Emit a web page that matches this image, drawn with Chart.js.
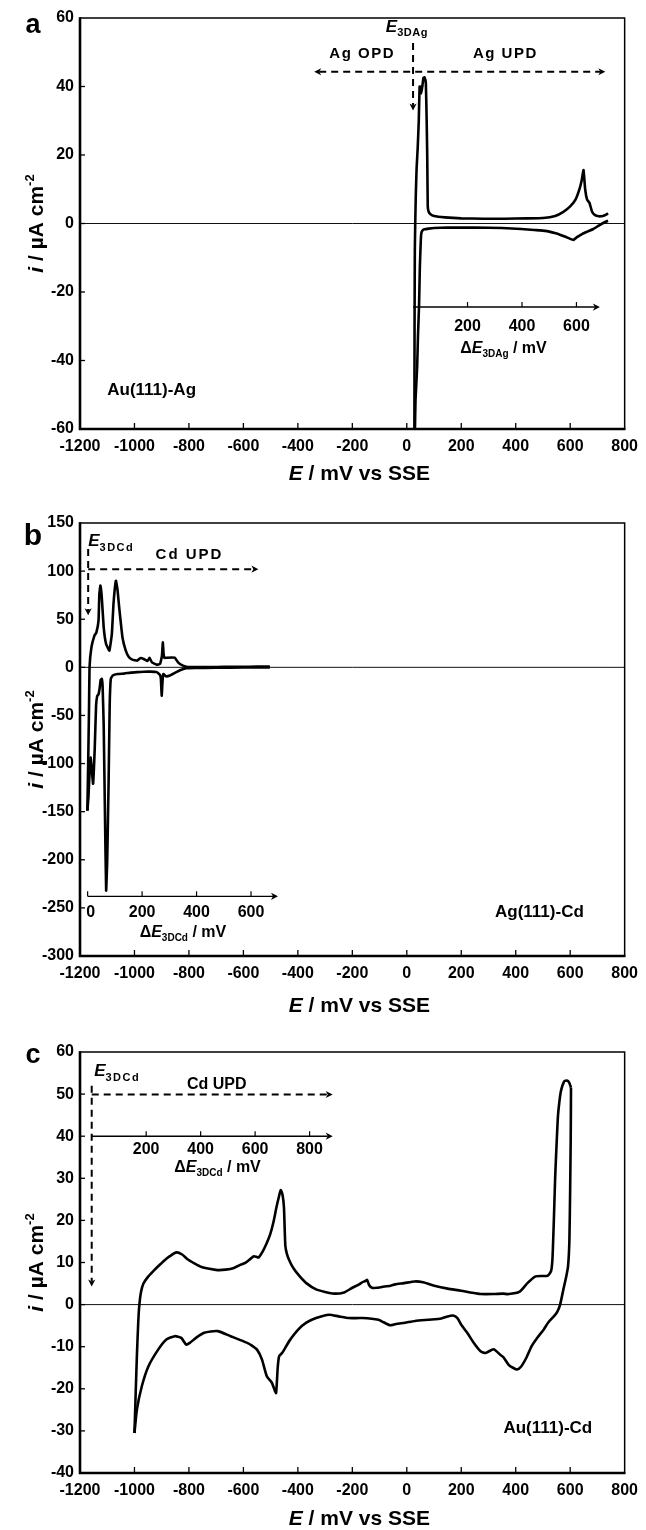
<!DOCTYPE html>
<html>
<head>
<meta charset="utf-8">
<script src="https://cdn.jsdelivr.net/npm/chart.js@4/dist/chart.umd.min.js"></script>
<style>
  html, body { margin: 0; padding: 0; background: #fff; }
  body { width: 646px; height: 1530px; position: relative; overflow: hidden; }
  canvas { position: absolute; left: 0; }
</style>
</head>
<body>
<canvas id="chartA" width="646" height="485" style="top:0px"></canvas>
<canvas id="chartB" width="646" height="530" style="top:485px"></canvas>
<canvas id="chartC" width="646" height="515" style="top:1015px"></canvas>
<script>
// Axis ticks (E / mV vs SSE shared by all panels)
const xTicks = { min: -1200, max: 800, step: 200 };
const yTicksA = { min: -60, max: 60, step: 20 };
const yTicksB = { min: -300, max: 150, step: 50 };
const yTicksC = { min: -40, max: 60, step: 10 };

// Panel a: Au(111)-Ag, anodic then cathodic sweep
const aAnodicE = [28, 28.5, 29.5, 31, 33, 36, 40, 44, 47, 50, 53, 57, 61, 65, 70, 73, 75, 77, 80, 86, 100, 140, 200, 280, 360, 440, 500, 545, 575, 600, 619, 632, 642, 649, 655, 662, 671, 680, 690, 705, 720, 732, 739];
const aAnodicI = [-60, -30, -8, 0, 8, 16, 22, 30, 40, 40, 38, 40, 42.5, 42.7, 41, 30, 20, 5, 3.5, 2.8, 2.2, 1.8, 1.5, 1.4, 1.4, 1.5, 1.6, 2.2, 3.4, 5, 6.9, 9.5, 12.5, 15.6, 10, 7, 6, 3.5, 2.5, 2.1, 2.2, 2.6, 3];
const aCathodicE = [739, 725, 705, 685, 665, 645, 625, 611, 600, 580, 560, 543, 520, 490, 468, 420, 350, 250, 150, 100, 80, 65, 58, 54, 52, 50, 48, 45, 41, 38, 32, 30];
const aCathodicI = [0.8, 0.3, -0.6, -1.6, -2.3, -3, -4, -4.8, -4.5, -3.8, -3.2, -2.8, -2.3, -2.0, -1.9, -1.6, -1.3, -1.2, -1.2, -1.3, -1.5, -1.7, -2.0, -2.6, -4, -8, -12.6, -24, -33, -42, -51.5, -60];

// Panel b: Ag(111)-Cd
const bAnodicE = [-1173, -1170, -1167, -1165, -1158, -1147, -1140, -1132, -1129, -1125, -1120, -1113, -1104, -1092, -1083, -1077, -1068, -1062, -1056, -1044, -1032, -1020, -1008, -990, -978, -966, -952, -945, -936, -918, -906, -899, -896, -893, -890, -882, -852, -840, -822, -804, -760, -700, -640, -580, -520, -503];
const bAnodicI = [-149, -100, -45, 0, 20.8, 33, 36, 48.5, 76, 85, 72.8, 41.6, 24, 17.4, 34.7, 66, 90, 80, 62, 31, 17.4, 10.4, 8, 7, 9.7, 8.7, 6.5, 10, 5.2, 2.8, 3.5, 12, 26, 14, 9.7, 10, 10, 5.2, 1.7, 0.4, 0.3, 0.4, 0.5, 0.6, 0.8, 0.8];
const bCathodicE = [-503, -600, -700, -780, -810, -833, -852, -870, -884, -894, -897, -900, -903, -906, -918, -942, -966, -990, -1014, -1038, -1062, -1080, -1087, -1091, -1095, -1100, -1104, -1108, -1113, -1117, -1120, -1124, -1128, -1132, -1137, -1141, -1146, -1152, -1157, -1161, -1165, -1169, -1173];
const bCathodicI = [0, -0.2, -0.4, -0.7, -1, -3, -5.8, -8.5, -9.3, -7, -15, -29.5, -12, -8, -5, -4.5, -4.6, -5, -5.5, -6.5, -6.9, -8.5, -12, -40, -120, -200, -232, -160, -60, -20, -12, -13, -22, -28, -30, -40, -85, -121, -105, -93.7, -110, -135, -149];

// Panel c: Au(111)-Cd
const cAnodicE = [-1000, -996, -991, -986, -982, -976, -967, -949, -930, -913, -890, -870, -846, -825, -804, -780, -756, -725, -695, -665, -635, -610, -593, -575, -562, -550, -544, -530, -515, -502, -490, -478, -470, -463, -456, -451, -446, -440, -430, -415, -393, -369, -333, -300, -267, -230, -200, -175, -164, -152, -146, -138, -128, -110, -91, -60, -43, -10, 29, 60, 101, 150, 199, 240, 271, 320, 353, 374, 413, 443, 473, 500, 518, 530, 535, 540, 545, 550, 555, 560, 566, 578, 588, 596, 603];
const cAnodicI = [-30.5, -22, -12, -4, 0, 3, 5, 6.7, 8, 9.1, 10.5, 11.5, 12.4, 11.9, 10.7, 9.8, 9.0, 8.5, 8.2, 8.3, 8.7, 9.5, 9.9, 10.8, 11.5, 11.3, 11.2, 12.5, 14.5, 16.6, 19.5, 23.3, 25.5, 27.2, 26, 23, 14, 12, 10.3, 8.5, 6.7, 5.1, 3.6, 3.0, 2.6, 2.9, 4.0, 4.8, 5.3, 5.6, 5.9, 4.6, 4.0, 4.0, 4.2, 4.5, 4.8, 5.1, 5.5, 5.3, 4.5, 3.8, 3.3, 2.8, 2.5, 2.5, 2.6, 2.5, 3.0, 5.1, 6.7, 6.8, 6.9, 8, 11, 20, 30.5, 38, 44.7, 48, 50.7, 53, 53.2, 52.8, 51.5];
const cCathodicE = [603, 602, 600, 597, 592, 585, 575, 563, 552, 540, 520, 503, 480, 458, 440, 420, 405, 390, 374, 355, 343, 319, 289, 271, 245, 222, 200, 186, 170, 150, 127, 78, 30, -7, -40, -61, -85, -104, -164, -212, -250, -285, -333, -369, -398, -430, -443, -458, -469, -474, -480, -487, -496, -514, -532, -550, -570, -586, -620, -647, -695, -744, -774, -795, -810, -828, -852, -883, -913, -949, -973, -991, -1000];
const cCathodicI = [51.5, 40, 28, 15, 9, 6.5, 3.6, 0, -1.8, -2.8, -4.2, -5.9, -7.8, -9.9, -12.5, -14.7, -15.4, -15, -14.3, -12.5, -11.9, -10.6, -11.5, -11.1, -9, -6.7, -4.8, -3.2, -2.6, -2.8, -3.3, -3.6, -3.9, -4.3, -4.6, -4.9, -4.2, -3.6, -3.2, -3.2, -2.8, -2.4, -3.2, -4.3, -5.9, -8.5, -9.9, -11.5, -12.3, -15, -21, -20, -18.5, -17, -13, -10.7, -9.7, -9.1, -8.2, -7.5, -6.3, -6.7, -7.9, -9, -9.5, -7.9, -7.5, -8.3, -10.7, -14.7, -19.4, -24.9, -30.5];

const FONT = '"Liberation Sans", Arial, Helvetica, sans-serif';
const bold = (size, italic) => `${italic ? 'italic ' : ''}bold ${size}px ${FONT}`;

// rich text: parts = [{t, size, it, dy, ls}]
function rich(ctx, parts, x, y, align) {
    let w = 0;
    parts.forEach(p => {
        ctx.font = bold(p.size, p.it);
        ctx.letterSpacing = (p.ls || 0) + 'px';
        p.w = ctx.measureText(p.t).width;
        w += p.w;
    });
    let cx = align === 'center' ? x - w / 2 : x;
    ctx.textAlign = 'left';
    ctx.textBaseline = 'alphabetic';
    parts.forEach(p => {
        ctx.font = bold(p.size, p.it);
        ctx.letterSpacing = (p.ls || 0) + 'px';
        ctx.fillText(p.t, cx, y + (p.dy || 0));
        cx += p.w;
    });
    ctx.letterSpacing = '0px';
}

function head(ctx, x, y, ang) {
    ctx.save();
    ctx.translate(x, y);
    ctx.rotate(ang);
    ctx.beginPath();
    ctx.moveTo(0, 0);
    ctx.lineTo(-7, -3.6);
    ctx.lineTo(-5, 0);
    ctx.lineTo(-7, 3.6);
    ctx.closePath();
    ctx.fill();
    ctx.restore();
}

function arrow(ctx, x1, y1, x2, y2, dashed, both, width) {
    const ang = Math.atan2(y2 - y1, x2 - x1);
    ctx.save();
    ctx.lineWidth = width || 2;
    ctx.setLineDash(dashed ? [7, 5] : []);
    ctx.beginPath();
    ctx.moveTo(x1 + (both ? Math.cos(ang) * 5 : 0), y1 + (both ? Math.sin(ang) * 5 : 0));
    ctx.lineTo(x2 - Math.cos(ang) * 5, y2 - Math.sin(ang) * 5);
    ctx.stroke();
    ctx.setLineDash([]);
    head(ctx, x2, y2, ang);
    if (both) head(ctx, x1, y1, ang + Math.PI);
    ctx.restore();
}

// small ΔE axis drawn inside the plot
function insetAxis(chart, e0, eEnd, iAxis, deltas, showLabels, labelI, subText, titleE, titleI) {
    const {ctx, scales: {x, y}} = chart;
    const Y = y.getPixelForValue(iAxis);
    ctx.save();
    ctx.strokeStyle = '#000';
    ctx.fillStyle = '#000';
    arrow(ctx, x.getPixelForValue(e0), Y, x.getPixelForValue(eEnd), Y, false, false, 1.4);
    ctx.lineWidth = 1.2;
    deltas.forEach(d => {
        const X = x.getPixelForValue(e0 + d);
        ctx.beginPath();
        ctx.moveTo(X, Y);
        ctx.lineTo(X, Y - 5);
        ctx.stroke();
    });
    showLabels.forEach(d => {
        rich(ctx, [{t: String(d), size: 16}], x.getPixelForValue(e0 + d) + (d === 0 ? 3 : 0), y.getPixelForValue(labelI), 'center');
    });
    rich(ctx, [
        {t: '\u0394', size: 16},
        {t: 'E', size: 16, it: true},
        {t: subText, size: 10, dy: 4},
        {t: ' / mV', size: 16}
    ], x.getPixelForValue(titleE), y.getPixelForValue(titleI), 'center');
    ctx.restore();
}

function frameAndTitles(chart, cfg) {
    const {ctx, chartArea: ca, scales: {x, y}} = chart;
    ctx.save();
    ctx.strokeStyle = '#000';
    ctx.fillStyle = '#000';
    // inward tick marks
    ctx.lineWidth = 1.3;
    for (let v = xTicks.min + xTicks.step; v < xTicks.max; v += xTicks.step) {
        const X = x.getPixelForValue(v);
        ctx.beginPath(); ctx.moveTo(X, ca.bottom); ctx.lineTo(X, ca.bottom - 6); ctx.stroke();
    }
    for (let v = cfg.yt.min + cfg.yt.step; v < cfg.yt.max; v += cfg.yt.step) {
        const Y = y.getPixelForValue(v);
        ctx.beginPath(); ctx.moveTo(ca.left, Y); ctx.lineTo(ca.left + 5, Y); ctx.stroke();
    }
    // plot frame
    ctx.lineWidth = 1.5;
    ctx.strokeRect(ca.left, ca.top, ca.right - ca.left, ca.bottom - ca.top);
    ctx.lineWidth = 2.6;
    ctx.beginPath();
    ctx.moveTo(ca.left, ca.top - 0.75);
    ctx.lineTo(ca.left, ca.bottom);
    ctx.lineTo(ca.right + 0.75, ca.bottom);
    ctx.stroke();

    // axis titles
    rich(ctx, [{t: 'E', size: 21, it: true}, {t: ' / mV vs SSE', size: 21}],
        (ca.left + ca.right) / 2 + 7, ca.bottom + cfg.xTitleGap, 'center');
    ctx.save();
    ctx.translate(ca.left - 37, (ca.top + ca.bottom) / 2);
    ctx.rotate(-Math.PI / 2);
    rich(ctx, [{t: 'i', size: 21, it: true}, {t: ' / \u00b5A cm', size: 21}, {t: '-2', size: 13, dy: -9}], 0, 0, 'center');
    ctx.restore();

    // panel letter
    rich(ctx, [{t: cfg.letter, size: cfg.letterSize}], ca.left - 47, ca.top + cfg.letterDy, 'center');
    ctx.restore();
}

function zeroLine(chart) {
    const {ctx, chartArea: ca, scales: {y}} = chart;
    const Y = y.getPixelForValue(0);
    ctx.save();
    ctx.strokeStyle = '#111';
    ctx.lineWidth = 1;
    ctx.beginPath();
    ctx.moveTo(ca.left, Y);
    ctx.lineTo(ca.right, Y);
    ctx.stroke();
    ctx.restore();
}

const annotA = chart => {
    const {ctx, scales: {x, y}} = chart;
    ctx.save();
    ctx.fillStyle = '#000';
    ctx.strokeStyle = '#000';
    const e3d = 23;
    arrow(ctx, x.getPixelForValue(e3d), y.getPixelForValue(52.7), x.getPixelForValue(e3d), y.getPixelForValue(33), true, false, 2);
    arrow(ctx, x.getPixelForValue(-340), y.getPixelForValue(44.3), x.getPixelForValue(729), y.getPixelForValue(44.3), true, true, 2);
    rich(ctx, [{t: 'E', size: 17, it: true}, {t: '3DAg', size: 11, dy: 4, ls: 0.5}], x.getPixelForValue(-77), y.getPixelForValue(55.9), 'left');
    rich(ctx, [{t: 'Ag OPD', size: 15, ls: 1.5}], x.getPixelForValue(-164), y.getPixelForValue(48.2), 'center');
    rich(ctx, [{t: 'Ag UPD', size: 15, ls: 1.5}], x.getPixelForValue(362), y.getPixelForValue(48.2), 'center');
    rich(ctx, [{t: 'Au(111)-Ag', size: 17}], x.getPixelForValue(-937), y.getPixelForValue(-50), 'center');
    ctx.restore();
    insetAxis(chart, e3d, 709, -24.4, [200, 400, 600], [200, 400, 600], -31.3, '3DAg', 355, -37.7);
};

const annotB = chart => {
    const {ctx, scales: {x, y}} = chart;
    ctx.save();
    ctx.fillStyle = '#000';
    ctx.strokeStyle = '#000';
    const e3d = -1170;
    arrow(ctx, x.getPixelForValue(e3d), y.getPixelForValue(123), x.getPixelForValue(e3d), y.getPixelForValue(54), true, false, 2);
    arrow(ctx, x.getPixelForValue(e3d), y.getPixelForValue(102), x.getPixelForValue(-545), y.getPixelForValue(102), true, false, 2);
    rich(ctx, [{t: 'E', size: 17, it: true}, {t: '3DCd', size: 11, dy: 5, ls: 1.5}], x.getPixelForValue(-1170), y.getPixelForValue(126.5), 'left');
    rich(ctx, [{t: 'Cd UPD', size: 15, ls: 2}], x.getPixelForValue(-798), y.getPixelForValue(113), 'center');
    rich(ctx, [{t: 'Ag(111)-Cd', size: 17}], x.getPixelForValue(487), y.getPixelForValue(-259), 'center');
    ctx.restore();
    insetAxis(chart, -1172, -473, -238, [0, 200, 400, 600], [0, 200, 400, 600], -259.5, '3DCd', -822, -280);
};

const annotC = chart => {
    const {ctx, scales: {x, y}} = chart;
    ctx.save();
    ctx.fillStyle = '#000';
    ctx.strokeStyle = '#000';
    const e3d = -1157;
    arrow(ctx, x.getPixelForValue(e3d), y.getPixelForValue(52), x.getPixelForValue(e3d), y.getPixelForValue(4.3), true, false, 2);
    arrow(ctx, x.getPixelForValue(e3d), y.getPixelForValue(49.9), x.getPixelForValue(-272), y.getPixelForValue(49.9), true, false, 2);
    rich(ctx, [{t: 'E', size: 17, it: true}, {t: '3DCd', size: 11, dy: 5, ls: 1.5}], x.getPixelForValue(-1148), y.getPixelForValue(54.2), 'left');
    rich(ctx, [{t: 'Cd UPD', size: 16}], x.getPixelForValue(-698), y.getPixelForValue(51.3), 'center');
    rich(ctx, [{t: 'Au(111)-Cd', size: 17}], x.getPixelForValue(518), y.getPixelForValue(-30.6), 'center');
    ctx.restore();
    insetAxis(chart, e3d, -272, 40, [200, 400, 600, 800], [200, 400, 600, 800], 35.7, '3DCd', -695, 31.5);
};

const toPoints = (es, is) => es.map((e, k) => ({x: e, y: is[k]}));

function makePanel(id, cfg) {
    const canvas = document.getElementById(id);
    const H = canvas.height;
    const lineStyle = {
        borderColor: '#000',
        borderWidth: 2.6,
        pointRadius: 0,
        showLine: true,
        fill: false,
        tension: cfg.tension
    };
    return new Chart(canvas.getContext('2d'), {
        type: 'scatter',
        data: {
            datasets: cfg.series.map(s => Object.assign({data: toPoints(s[0], s[1])}, lineStyle))
        },
        options: {
            responsive: false,
            animation: false,
            devicePixelRatio: 1,
            layout: {autoPadding: false, padding: {left: 0, right: 15, top: cfg.top, bottom: 0}},
            plugins: {legend: {display: false}, tooltip: {enabled: false}},
            scales: {
                x: {
                    type: 'linear', min: xTicks.min, max: xTicks.max,
                    ticks: {stepSize: xTicks.step, color: '#000', padding: 8, maxRotation: 0, autoSkip: false,
                        font: {family: FONT, size: 16, weight: 'bold'}, callback: v => String(v)},
                    grid: {display: false, drawTicks: false},
                    border: {display: false},
                    afterFit: s => { s.height = H - cfg.bottom; }
                },
                y: {
                    type: 'linear', min: cfg.yt.min, max: cfg.yt.max,
                    ticks: {stepSize: cfg.yt.step, color: '#000', padding: 6, autoSkip: false,
                        font: {family: FONT, size: 16, weight: 'bold'}, callback: v => String(v)},
                    grid: {display: false, drawTicks: false},
                    border: {display: false},
                    afterFit: s => { s.width = 80; }
                }
            }
        },
        plugins: [{
            id: 'cvDecor',
            beforeDatasetsDraw: chart => zeroLine(chart),
            afterDraw: chart => {
                frameAndTitles(chart, cfg);
                cfg.annot(chart);
            }
        }]
    });
}

makePanel('chartA', {
    yt: yTicksA, top: 18, bottom: 429, tension: 0.1,
    series: [[aAnodicE, aAnodicI], [aCathodicE, aCathodicI]],
    letter: 'a', letterSize: 27, letterDy: 15, xTitleGap: 51, annot: annotA
});
makePanel('chartB', {
    yt: yTicksB, top: 38, bottom: 471, tension: 0.1,
    series: [[bAnodicE, bAnodicI], [bCathodicE, bCathodicI]],
    letter: 'b', letterSize: 30, letterDy: 22, xTitleGap: 56, annot: annotB
});
makePanel('chartC', {
    yt: yTicksC, top: 37, bottom: 458, tension: 0.2,
    series: [[cAnodicE, cAnodicI], [cCathodicE, cCathodicI]],
    letter: 'c', letterSize: 27, letterDy: 11, xTitleGap: 52, annot: annotC
});
</script>
</body>
</html>
